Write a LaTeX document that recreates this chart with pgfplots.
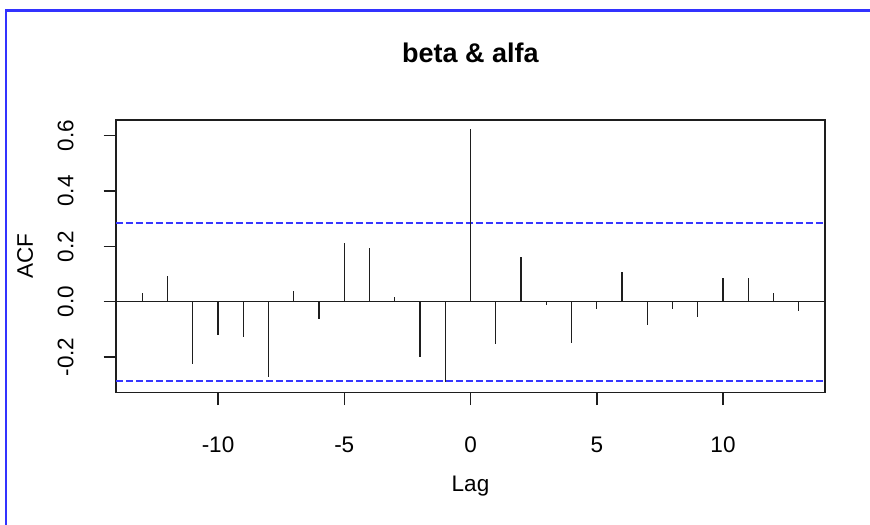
\documentclass[border=0pt]{standalone}
\usepackage{fontspec}
\setmainfont{Liberation Sans}
\usepackage{pgfplots}
\pgfplotsset{compat=1.18}
\definecolor{rblue}{RGB}{55,55,255}
\definecolor{frameblue}{RGB}{50,50,255}
\definecolor{rblack}{RGB}{30,30,30}
\begin{document}
\begin{tikzpicture}[x=1bp,y=1bp]
\useasboundingbox (0,0) rectangle (870,525);
% blue frame of the screenshot
\draw[frameblue, line width=2.2bp] (6,0) -- (6,514.5) -- (870,514.5);
\begin{axis}[
  at={(116bp,132.3bp)}, anchor=south west,
  scale only axis, width=709bp, height=272.7bp,
  xmin=-14.04, xmax=14.04, ymin=-0.329, ymax=0.657,
  axis line style={line width=1.5bp, rblack},
  tick align=outside, xtick pos=lower, ytick pos=left,
  major tick length=12.5bp,
  every tick/.style={rblack, line width=1.5bp},
  xtick={-10,-5,0,5,10},
  xticklabels={-10,-5,0,5,10},
  ytick={-0.2,0,0.2,0.4,0.6},
  yticklabels={-0.2,0.0,0.2,0.4,0.6},
  xticklabel style={anchor=base, font=\fontsize{22.5bp}{26bp}\selectfont},
  xticklabel shift=47bp,
  yticklabel style={rotate=90, anchor=base, font=\fontsize{22.5bp}{26bp}\selectfont},
  yticklabel shift=30bp,
  title={\textbf{beta \& alfa}},
  title style={at={(axis description cs:0.5,1.1896)}, anchor=base, font=\fontsize{27bp}{32bp}\selectfont},
  xlabel={Lag},
  xlabel style={at={(axis description cs:0.5,-0.3605)}, anchor=base, font=\fontsize{22.5bp}{26bp}\selectfont},
  ylabel={ACF},
  ylabel style={at={(axis description cs:-0.1171,0.5)}, anchor=base, font=\fontsize{22.5bp}{26bp}\selectfont},
]
% zero line
\addplot[rblack, line width=1.4bp, forget plot] coordinates {(-14.04,0) (14.04,0)};
% confidence bounds
\addplot[rblue, line width=1.8bp, dash pattern=on 6.5bp off 3.5bp] coordinates {(-14.04,0.2857) (14.04,0.2857)};
\addplot[rblue, line width=1.8bp, dash pattern=on 6.5bp off 3.5bp] coordinates {(-14.04,-0.2857) (14.04,-0.2857)};
% cross-correlations
\addplot[ycomb, rblack, line width=1.4bp, mark=none] coordinates {
  (-13,0.032) (-12,0.093) (-11,-0.225) (-10,-0.120) (-9,-0.129)
  (-8,-0.271) (-7,0.037) (-6,-0.064) (-5,0.213) (-4,0.193)
  (-3,0.016) (-2,-0.201) (-1,-0.289) (0,0.623) (1,-0.154)
  (2,0.163) (3,-0.013) (4,-0.151) (5,-0.028) (6,0.107)
  (7,-0.086) (8,-0.028) (9,-0.054) (10,0.087) (11,0.087)
  (12,0.033) (13,-0.034)
};
\end{axis}
\end{tikzpicture}
\end{document}
